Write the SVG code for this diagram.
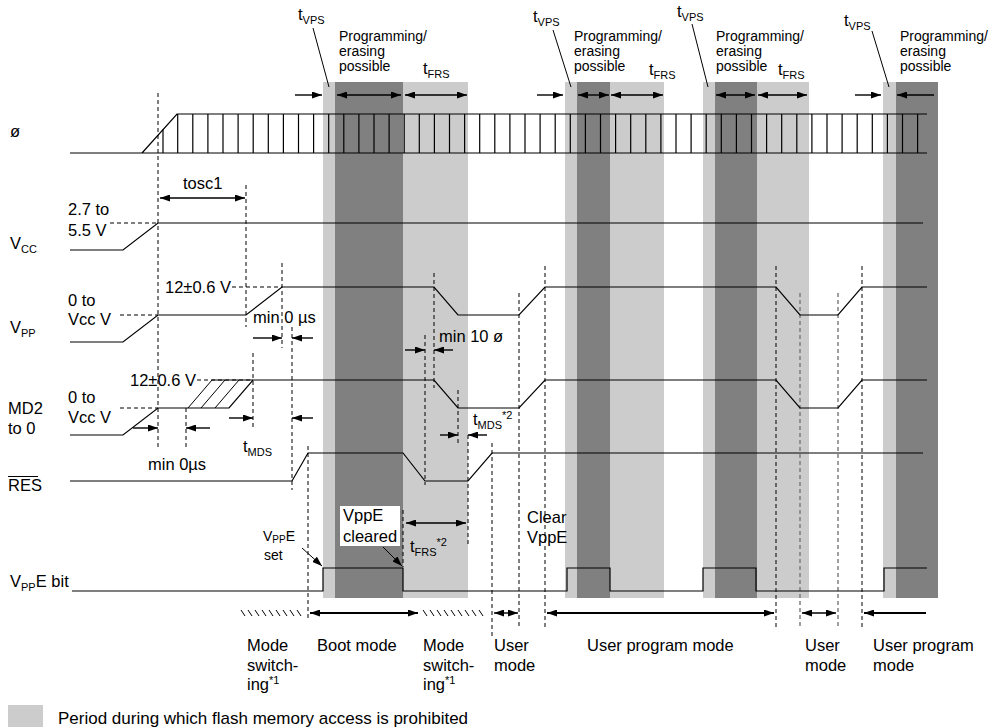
<svg xmlns="http://www.w3.org/2000/svg" width="995" height="727" viewBox="0 0 995 727">
<defs>
<marker id="ah" viewBox="0 0 10 7" refX="10" refY="3.5" markerWidth="10" markerHeight="7" markerUnits="userSpaceOnUse" orient="auto-start-reverse"><path d="M0,0L10,3.5L0,7z" fill="#000"/></marker>
</defs>
<style>
text{font-family:"Liberation Sans",Arial,sans-serif;fill:#000}
.m{font-size:16.5px}
.s{font-size:14px}
.sub{font-size:11px}
.sig{fill:none;stroke:#000;stroke-width:1.2}
.dash{fill:none;stroke:#000;stroke-width:1;stroke-dasharray:4 3}
.dg{fill:none;stroke:#777;stroke-width:1.4;stroke-dasharray:4 3}
.ar{fill:none;stroke:#000;stroke-width:1.4}
.ar2{fill:none;stroke:#000;stroke-width:2}
.lead{fill:none;stroke:#000;stroke-width:1}
.light{fill:#ccc}
.dark{fill:#808080}
</style>
<rect width="995" height="727" fill="#fff"/>

<g id="bands">
<rect class="light" x="323" y="82" width="12" height="516"/>
<rect class="dark" x="335" y="82" width="68" height="516"/>
<rect class="light" x="403" y="82" width="65" height="516"/>
<rect class="light" x="565" y="82" width="12" height="516"/>
<rect class="dark" x="577" y="82" width="33" height="516"/>
<rect class="light" x="610" y="82" width="54" height="516"/>
<rect class="light" x="703" y="82" width="12" height="516"/>
<rect class="dark" x="715" y="82" width="42" height="516"/>
<rect class="light" x="757" y="82" width="52" height="516"/>
<rect class="light" x="883" y="82" width="13" height="516"/>
<rect class="dark" x="896" y="82" width="42" height="516"/>
</g>

<g id="guides">
<path class="dash" d="M158,93V447 M246,185V327 M282,263V348 M292,327V490 M253,353V430 M186,408V447 M308,446V618 M425,335V485 M434,273V388 M458,390V446 M468,435V547 M403,510V567 M492,443V637 M519,293V627 M545,266V627 M776,266V627 M862,266V627"/>
<path class="dg" d="M800,293V627 M838,293V627"/>
<path class="dash" d="M110,223H158 M120,315H158 M232,287H282 M120,408H158 M197,380H253"/>
</g>

<g id="clock">
<text class="m" x="10" y="137">ø</text>
<path class="sig" d="M70,153H927 M142,153L177,114H927"/>
<path class="sig" stroke-width="1" d="M163,129.6V153 M177.7,114V153 M192.8,114V153 M207.9,114V153 M223,114V153 M238.1,114V153 M253.2,114V153 M268.3,114V153 M283.4,114V153 M298.5,114V153 M313.6,114V153 M328.7,114V153 M343.8,114V153 M358.9,114V153 M374,114V153 M389.1,114V153 M404.2,114V153 M419.3,114V153 M434.4,114V153 M449.5,114V153 M464.6,114V153 M479.7,114V153 M494.8,114V153 M509.9,114V153 M525,114V153 M540.1,114V153 M555.2,114V153 M570.3,114V153 M585.4,114V153 M600.5,114V153 M615.6,114V153 M630.7,114V153 M645.8,114V153 M660.9,114V153 M676,114V153 M691.1,114V153 M706.2,114V153 M721.3,114V153 M736.4,114V153 M751.5,114V153 M766.6,114V153 M781.7,114V153 M796.8,114V153 M811.9,114V153 M827,114V153 M842.1,114V153 M857.2,114V153 M872.3,114V153 M887.4,114V153 M902.5,114V153 M917.6,114V153"/>
</g>

<g id="vcc">
<text class="m" x="10" y="249">V<tspan class="sub" dy="4">CC</tspan></text>
<text class="m" x="68" y="215">2.7 to</text>
<text class="m" x="68" y="236">5.5 V</text>
<path class="sig" d="M70,250H123L158,223H923"/>
<text class="m" x="183" y="189">tosc1</text>
</g>

<g id="vpp">
<text class="m" x="10" y="333">V<tspan class="sub" dy="4">PP</tspan></text>
<text class="m" x="68" y="306">0 to</text>
<text class="m" x="68" y="325">Vcc V</text>
<text class="m" x="165" y="293">12±0.6 V</text>
<path class="sig" d="M70,342H123L158,315H246L282,287H434L458,315H519L545,287H776L800,315H838L862,287H927"/>
<text class="m" x="253" y="323">min 0 µs</text>
<text class="m" x="439" y="342">min 10 ø</text>
</g>

<g id="md2">
<text class="m" x="8" y="414">MD2</text>
<text class="m" x="8" y="434">to 0</text>
<text class="m" x="68" y="403">0 to</text>
<text class="m" x="68" y="423">Vcc V</text>
<text class="m" x="130" y="386">12±0.6 V</text>
<path class="sig" d="M70,435H123L158,408H229L253,380H434L458,408H519L545,380H776L800,408H838L862,380H927"/>
<path class="lead" d="M188,408L212,380 M201,408L225,380 M215,408L239,380 M212,380H253"/>
<text class="m" x="148" y="470">min 0µs</text>
<text class="m" x="243" y="452">t<tspan class="sub" dy="4">MDS</tspan></text>
<text class="m" x="473" y="425">t<tspan class="sub" dy="4">MDS</tspan><tspan class="sub" dy="-10">*2</tspan></text>
</g>

<g id="res">
<text class="m" x="8" y="491">RES</text>
<path class="lead" d="M8,476.5H38"/>
<path class="sig" d="M70,481H292L308,453H403L425,481H468L492,453H923"/>
</g>

<g id="vppe">
<text class="m" x="10" y="587">V<tspan class="sub" dy="4">PP</tspan><tspan dy="-4">E bit</tspan></text>
<path class="sig" d="M72,591H323V568H403V591H567V568H610V591H703V568H756V591H884V568H927"/>
<text class="s" x="263" y="541">V<tspan font-size="10" dy="2">PP</tspan><tspan dy="-2">E</tspan></text>
<text class="s" x="264" y="560">set</text>
<rect x="340" y="506" width="60" height="40" fill="#fff"/>
<text class="m" x="343" y="521">VppE</text>
<text class="m" x="343" y="542">cleared</text>
<text class="m" x="410" y="552">t<tspan class="sub" dy="4">FRS</tspan><tspan class="sub" dy="-10">*2</tspan></text>
<text class="m" x="527" y="523">Clear</text>
<text class="m" x="527" y="543">VppE</text>
</g>

<g id="top-labels">
<text class="m" x="298" y="20">t<tspan class="sub" dy="4">VPS</tspan></text>
<text class="m" x="533" y="22">t<tspan class="sub" dy="4">VPS</tspan></text>
<text class="m" x="677" y="17">t<tspan class="sub" dy="4">VPS</tspan></text>
<text class="m" x="844" y="26">t<tspan class="sub" dy="4">VPS</tspan></text>
<path class="lead" d="M313,28L329,87 M553,30L571,87 M692,24L708,87 M872,31L889,87"/>
<g class="s">
<text x="339" y="41">Programming/</text><text x="339" y="56">erasing</text><text x="339" y="71">possible</text>
<text x="574" y="41">Programming/</text><text x="574" y="56">erasing</text><text x="574" y="71">possible</text>
<text x="716" y="41">Programming/</text><text x="716" y="56">erasing</text><text x="716" y="71">possible</text>
<text x="900" y="41">Programming/</text><text x="900" y="56">erasing</text><text x="900" y="71">possible</text>
</g>
<text class="m" x="423" y="74">t<tspan class="sub" dy="4">FRS</tspan></text>
<text class="m" x="649" y="75">t<tspan class="sub" dy="4">FRS</tspan></text>
<text class="m" x="778" y="75">t<tspan class="sub" dy="4">FRS</tspan></text>
</g>

<g id="connectors">
<path class="ar" marker-end="url(#ah)" d="M295,95H322"/>
<path class="ar" marker-start="url(#ah)" marker-end="url(#ah)" d="M337,95H401"/>
<path class="ar" marker-start="url(#ah)" marker-end="url(#ah)" d="M405,95H467"/>
<path class="ar" marker-end="url(#ah)" d="M537,95H563"/>
<path class="ar" marker-start="url(#ah)" marker-end="url(#ah)" d="M578,95H609"/>
<path class="ar" marker-start="url(#ah)" marker-end="url(#ah)" d="M611,95H663"/>
<path class="ar" marker-start="url(#ah)" marker-end="url(#ah)" d="M716,95H755"/>
<path class="ar" marker-start="url(#ah)" marker-end="url(#ah)" d="M758,95H807"/>
<path class="ar" marker-end="url(#ah)" d="M855,95H881"/>
<path class="ar" marker-end="url(#ah)" d="M934,95H897"/>
<path class="ar" marker-start="url(#ah)" marker-end="url(#ah)" d="M160,198H245"/>
<path class="ar" marker-end="url(#ah)" d="M253,338H282"/>
<path class="ar" marker-end="url(#ah)" d="M313,338H292"/>
<path class="ar" marker-end="url(#ah)" d="M133,428H158"/>
<path class="ar" marker-end="url(#ah)" d="M210,428H186"/>
<path class="ar" marker-end="url(#ah)" d="M229,418H253"/>
<path class="ar" marker-end="url(#ah)" d="M313,418H292"/>
<path class="ar" marker-end="url(#ah)" d="M405,350H425"/>
<path class="ar" marker-end="url(#ah)" d="M453,350H434"/>
<path class="ar" marker-end="url(#ah)" d="M440,435H458"/>
<path class="ar" marker-end="url(#ah)" d="M487,435H468"/>
<path class="lead" marker-end="url(#ah)" d="M302,548L322,566"/>
<path class="lead" marker-end="url(#ah)" d="M383,547L402,566"/>
<path class="ar" marker-start="url(#ah)" marker-end="url(#ah)" d="M406,523H466"/>
<path class="ar2" marker-start="url(#ah)" marker-end="url(#ah)" d="M310,613H418"/>
<path class="ar" marker-start="url(#ah)" marker-end="url(#ah)" d="M494,613H518"/>
<path class="ar2" marker-start="url(#ah)" marker-end="url(#ah)" d="M547,613H774"/>
<path class="ar" marker-start="url(#ah)" marker-end="url(#ah)" d="M802,613H836"/>
<path class="ar2" marker-end="url(#ah)" d="M926,613H864"/>
<path class="lead" d="M241,610l4,6 M248,610l4,6 M255,610l4,6 M262,610l4,6 M269,610l4,6 M276,610l4,6 M283,610l4,6 M290,610l4,6 M297,610l4,6"/>
<path class="lead" d="M423,610l4,6 M430,610l4,6 M437,610l4,6 M444,610l4,6 M451,610l4,6 M458,610l4,6 M465,610l4,6 M472,610l4,6 M479,610l4,6"/>
</g>

<g id="mode-labels" class="m">
<text x="247" y="651">Mode</text><text x="247" y="671">switch-</text><text x="247" y="690">ing<tspan class="sub" dy="-6">*1</tspan></text>
<text x="317" y="651">Boot mode</text>
<text x="423" y="651">Mode</text><text x="423" y="671">switch-</text><text x="423" y="690">ing<tspan class="sub" dy="-6">*1</tspan></text>
<text x="494" y="651">User</text><text x="494" y="671">mode</text>
<text x="587" y="651">User program mode</text>
<text x="805" y="651">User</text><text x="805" y="671">mode</text>
<text x="873" y="651">User program</text><text x="873" y="671">mode</text>
</g>

<g id="legend">
<rect class="light" x="8" y="705" width="35" height="22"/>
<text x="58" y="724" font-size="17">Period during which flash memory access is prohibited</text>
</g>
</svg>
